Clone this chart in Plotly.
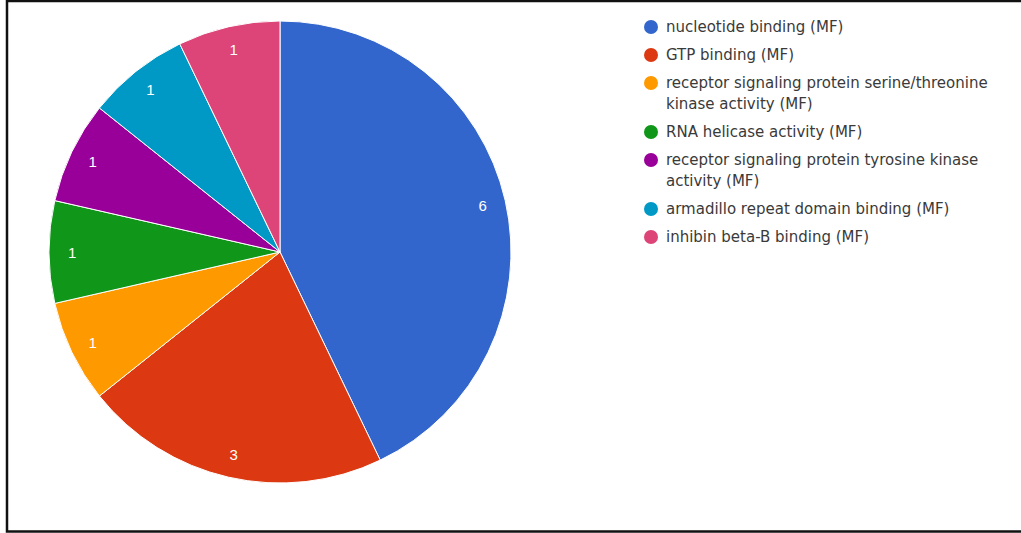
import textwrap
import plotly.graph_objects as go

# Molecular-function GO terms and their gene counts
labels = [
    "nucleotide binding (MF)",
    "GTP binding (MF)",
    "receptor signaling protein serine/threonine kinase activity (MF)",
    "RNA helicase activity (MF)",
    "receptor signaling protein tyrosine kinase activity (MF)",
    "armadillo repeat domain binding (MF)",
    "inhibin beta-B binding (MF)",
]
counts = [6, 3, 1, 1, 1, 1, 1]
colors = ["#3366cc", "#dc3912", "#ff9900", "#109618", "#990099", "#0099c6", "#dd4477"]

W, H = 1021, 533


def px_x(x):
    return x / W


def px_y(y):
    return 1 - y / H


pie_domain = dict(x=[px_x(49), px_x(511)], y=[px_y(485), px_y(19)])

fig = go.Figure()

# Filled slices
fig.add_trace(go.Pie(
    labels=labels, values=counts, sort=False, direction="clockwise", rotation=0,
    marker=dict(colors=colors, line=dict(color="white", width=1)),
    textinfo="none", showlegend=False, domain=pie_domain,
    hovertemplate="%{label}: %{value}<extra></extra>",
))

# Value labels drawn in an outer ring so they sit near the rim
fig.add_trace(go.Pie(
    labels=labels, values=counts, sort=False, direction="clockwise", rotation=0,
    hole=0.8,
    marker=dict(colors=["rgba(0,0,0,0)"] * len(counts), line=dict(width=0)),
    textinfo="value", textposition="inside", insidetextorientation="horizontal",
    textfont=dict(family="Arial, Liberation Sans", size=15, color="white"),
    showlegend=False, hoverinfo="skip", domain=pie_domain,
))

# Legend: colored dots with wrapped term names
shapes = []
annotations = []
row_gap, line_gap = 28, 21
extra = 0
for i, (lab, col) in enumerate(zip(labels, colors)):
    lines = textwrap.wrap(lab, width=43)
    y_top = 27 + i * row_gap + extra * line_gap
    shapes.append(dict(
        type="circle", xref="paper", yref="paper",
        x0=px_x(651 - 7), x1=px_x(651 + 7),
        y0=px_y(y_top + 7), y1=px_y(y_top - 7),
        fillcolor=col, line=dict(width=0),
    ))
    for j, ln in enumerate(lines):
        annotations.append(dict(
            xref="paper", yref="paper", x=px_x(664), y=px_y(y_top + j * line_gap),
            xanchor="left", yanchor="middle", text=ln, showarrow=False,
            font=dict(family="DejaVu Sans", size=15, color="#3a3a3a"),
        ))
    extra += len(lines) - 1

# Frame around the chart
shapes.append(dict(
    type="rect", xref="paper", yref="paper",
    x0=px_x(7), x1=px_x(1030), y0=px_y(531.5), y1=px_y(1),
    line=dict(color="#111111", width=2.5), fillcolor="rgba(0,0,0,0)",
))

fig.update_layout(
    width=W, height=H,
    margin=dict(l=0, r=0, t=0, b=0),
    paper_bgcolor="white", plot_bgcolor="white",
    shapes=shapes, annotations=annotations,
    showlegend=False,
)

fig.write_html("out.html")
